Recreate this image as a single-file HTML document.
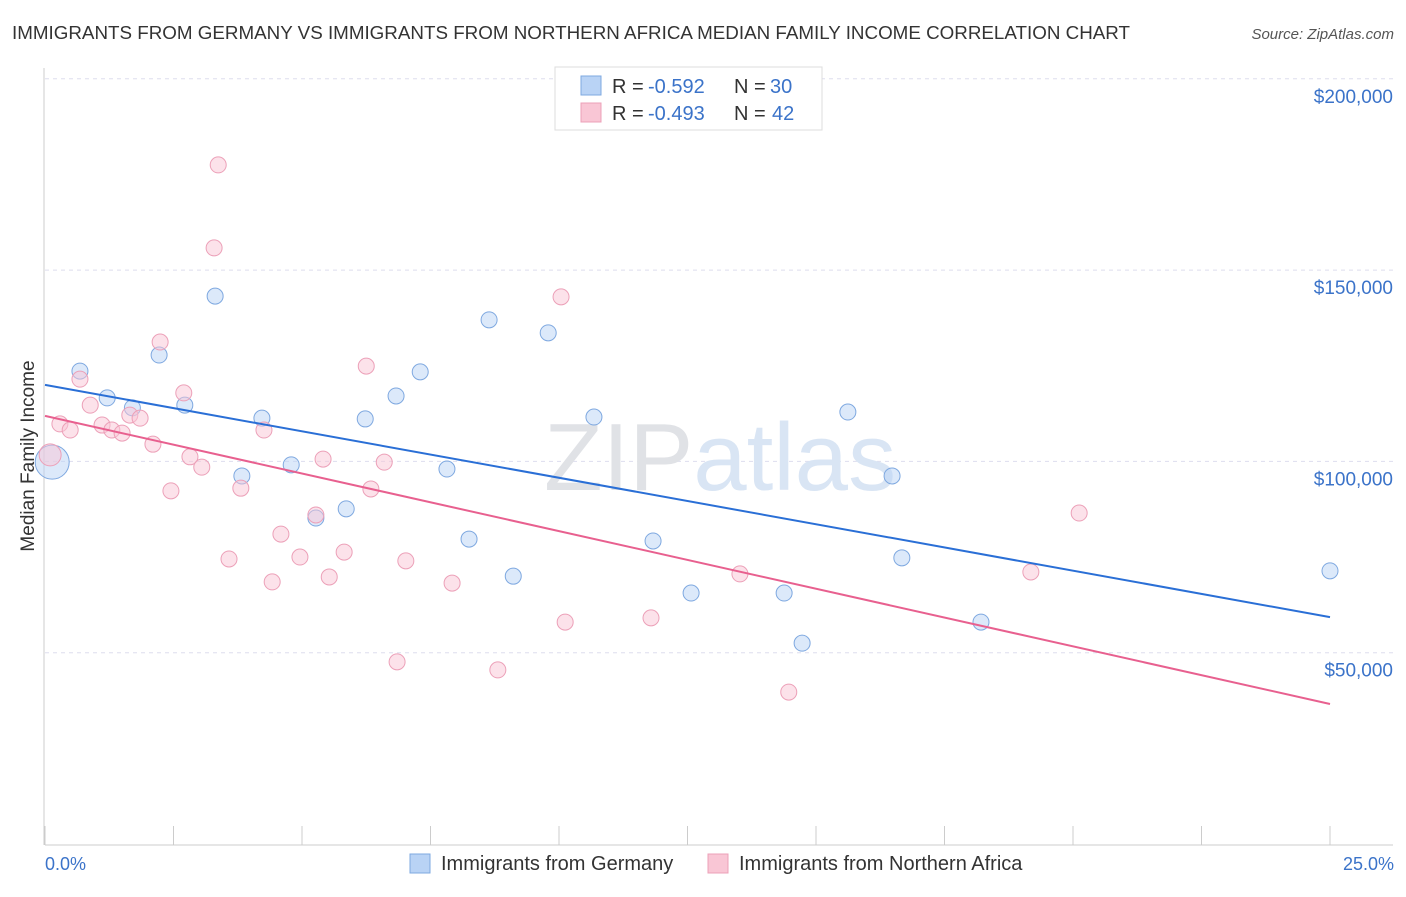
<!DOCTYPE html>
<html><head><meta charset="utf-8">
<style>
body{margin:0;background:#fff;font-family:"Liberation Sans",sans-serif;}
svg text{font-family:"Liberation Sans",sans-serif;}
</style></head>
<body>
<svg id="chart" width="1406" height="892" viewBox="0 0 1406 892" xmlns="http://www.w3.org/2000/svg">
<text x="12" y="39" font-size="18" fill="#333" textLength="1118" lengthAdjust="spacingAndGlyphs">IMMIGRANTS FROM GERMANY VS IMMIGRANTS FROM NORTHERN AFRICA MEDIAN FAMILY INCOME CORRELATION CHART</text>
<text x="1394" y="39" font-size="15" fill="#555" text-anchor="end" font-style="italic">Source: ZipAtlas.com</text>
<g id="grid"></g>
<text x="720" y="490" font-size="96" fill="#e4e8ee" text-anchor="middle" font-family="Liberation Serif"><tspan fill="#e0e2e6">ZIP</tspan><tspan fill="#d9e5f4" font-family="Liberation Sans">atlas</tspan></text>
<g id="axes"></g>
<g id="pts"></g>
<g id="lines"></g>
<text transform="translate(34,456) rotate(-90)" font-size="19" fill="#333" text-anchor="middle">Median Family Income</text>
<text x="45" y="870" font-size="18" fill="#3b73c9">0.0%</text>
<text x="1394" y="870" font-size="18" fill="#3b73c9" text-anchor="end">25.0%</text>
<g>
<rect x="555" y="67" width="267" height="63" fill="#fff" stroke="#ddd"/>
<rect x="581" y="76" width="20" height="19" fill="#b9d3f5" stroke="#7ea8e0"/>
<text x="612" y="93" font-size="20" fill="#333">R =</text>
<text x="648" y="93" font-size="20" fill="#3b73c9">-0.592</text>
<text x="734" y="93" font-size="20" fill="#333">N =</text>
<text x="770" y="93" font-size="20" fill="#3b73c9">30</text>
<rect x="581" y="103" width="20" height="19" fill="#f9c6d5" stroke="#eca0b8"/>
<text x="612" y="120" font-size="20" fill="#333">R =</text>
<text x="648" y="120" font-size="20" fill="#3b73c9">-0.493</text>
<text x="734" y="120" font-size="20" fill="#333">N =</text>
<text x="772" y="120" font-size="20" fill="#3b73c9">42</text>
</g>
<g>
<rect x="410" y="854" width="20" height="19" fill="#b9d3f5" stroke="#7ea8e0"/>
<text x="441" y="870" font-size="20" fill="#333">Immigrants from Germany</text>
<rect x="708" y="854" width="20" height="19" fill="#f9c6d5" stroke="#eca0b8"/>
<text x="739" y="870" font-size="20" fill="#333">Immigrants from Northern Africa</text>
</g>
</svg>
<script>
const yTicks=[50,100,150,200];
const yTickLabels=["$50,000","$100,000","$150,000","$200,000"];
const germanyX=[0.68,1.21,1.70,2.22,2.72,3.31,3.83,4.22,4.79,5.27,5.86,6.23,6.83,7.30,7.82,8.25,8.64,9.11,9.79,10.68,11.83,12.57,14.38,14.73,15.62,16.48,16.67,18.21,25.0,0.14];
const germanyY=[123.6,116.6,114.0,127.8,114.7,143.2,96.2,111.3,99.1,85.2,87.6,111.1,117.1,123.4,98.0,79.7,137.0,70.0,133.6,111.6,79.2,65.6,65.6,52.5,112.9,96.2,74.8,58.0,71.4,99.8];
const africaX=[0.10,0.29,0.49,0.68,0.88,1.11,1.30,1.50,1.65,1.85,2.10,2.24,2.45,2.70,2.82,3.05,3.29,3.37,3.58,3.81,4.26,4.42,4.59,4.96,5.27,5.41,5.53,5.82,6.25,6.34,6.60,6.85,7.02,7.92,8.81,10.04,10.12,11.79,13.52,14.47,19.18,20.12];
const africaY=[101.7,109.8,108.2,121.5,114.7,109.5,108.2,107.4,112.1,111.3,104.5,131.2,92.3,117.9,101.2,98.5,155.8,177.5,74.5,93.0,108.2,68.5,81.0,75.0,86.0,100.6,69.8,76.3,124.9,92.8,99.8,47.6,74.0,68.2,45.5,143.0,58.0,59.1,70.6,39.7,71.1,86.5];
const germanyTrend=[120.0,59.3];
const africaTrend=[111.9,36.6];
const NS="http://www.w3.org/2000/svg";
const xs=v=>45+v/25*1285;
const ys=v=>844-v/50*191.3;
function mk(t,a,p){const e=document.createElementNS(NS,t);for(const k in a)e.setAttribute(k,a[k]);p.appendChild(e);return e;}
const grid=document.getElementById('grid'),axes=document.getElementById('axes'),pts=document.getElementById('pts'),lines=document.getElementById('lines');
yTicks.forEach((t,i)=>{
 const l=mk('line',{x1:45,x2:1393,y1:ys(t),y2:ys(t),stroke:'#dde',"stroke-dasharray":'4,4'},grid);
 
 
 const tx=mk('text',{x:1393,y:ys(t)+24,"font-size":19,fill:'#3b73c9',"text-anchor":'end'},axes);
 tx.textContent=yTickLabels[i];
 
 
});
mk('line',{x1:44,x2:44,y1:68,y2:845,stroke:'#ccc'},axes);
mk('line',{x1:45,x2:1393,y1:845,y2:845,stroke:'#ccc'},axes);
for(let i=0;i<=10;i++){const t=mk('line',{x1:xs(i*2.5),x2:xs(i*2.5),y1:826,y2:845,stroke:'#ccc'},axes);
 
 }
function dots(X,Y,fill,stroke,name,big,br){X.forEach((x,i)=>{
 const c=mk('circle',{cx:xs(x),cy:ys(Y[i]),r:i===big?br:8,fill:fill,"fill-opacity":0.5,stroke:stroke,"stroke-width":1},pts);
 
 
});}
dots(germanyX,germanyY,'#b9d3f5','#7ea8e0','germany-point',29,17);
dots(africaX,africaY,'#f9c6d5','#eca0b8','northern-africa-point',0,11);
const l1=mk('line',{x1:xs(0),y1:ys(germanyTrend[0]),x2:xs(25),y2:ys(germanyTrend[1]),stroke:'#2a6fd6',"stroke-width":2},lines);


const l2=mk('line',{x1:xs(0),y1:ys(africaTrend[0]),x2:xs(25),y2:ys(africaTrend[1]),stroke:'#e8608f',"stroke-width":2},lines);


</script>
</body></html>
